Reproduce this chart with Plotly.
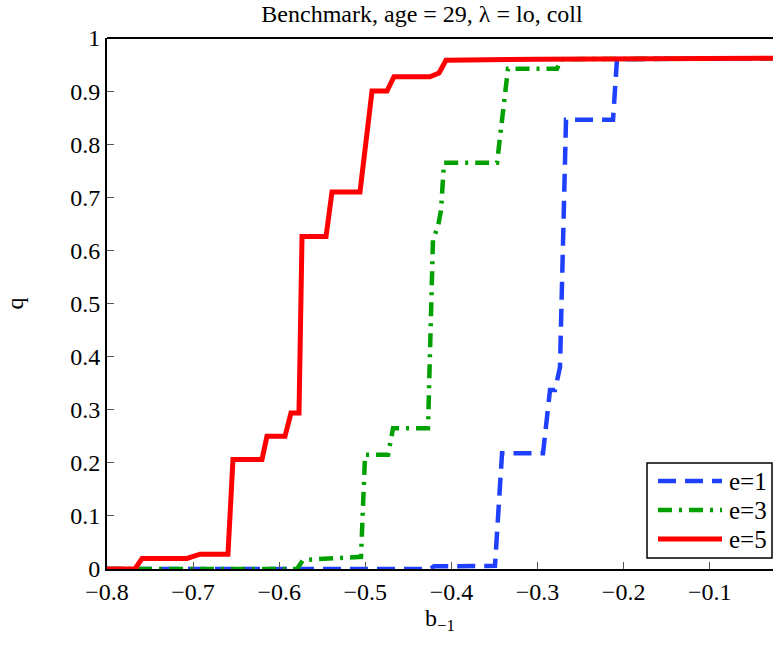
import plotly.graph_objects as go

# ---- data ----
e1_x = [-0.8, -0.4249, -0.42, -0.3494, -0.3412, -0.2936, -0.2855, -0.2797, -0.2739, -0.2669, -0.2123, -0.2077, -0.0265]
e1_y = [0.0, 0.0, 0.005, 0.006, 0.218, 0.218, 0.337, 0.337, 0.38, 0.846, 0.846, 0.96, 0.962]

e3_x = [-0.8, -0.5793, -0.5724, -0.5096, -0.505, -0.5003, -0.4736, -0.4678, -0.4272, -0.4214, -0.4156, -0.4121, -0.4086, -0.347, -0.3343, -0.2774, -0.2727, -0.0265]
e3_y = [0.0, 0.0, 0.017, 0.023, 0.023, 0.215, 0.215, 0.265, 0.265, 0.62, 0.645, 0.675, 0.765, 0.765, 0.942, 0.942, 0.96, 0.962]

e5_x = [-0.8, -0.7675, -0.7593, -0.7071, -0.692, -0.6595, -0.6537, -0.62, -0.6142, -0.5933, -0.5863, -0.577, -0.5735, -0.5456, -0.5387, -0.5062, -0.4922, -0.4748, -0.4667, -0.4249, -0.4144, -0.4063, -0.3, -0.0265]
e5_y = [0.0, 0.0, 0.02, 0.02, 0.028, 0.028, 0.206, 0.206, 0.25, 0.25, 0.294, 0.294, 0.626, 0.626, 0.71, 0.71, 0.90, 0.90, 0.927, 0.927, 0.934, 0.958, 0.96, 0.962]

series_names = ["e=1", "e=3", "e=5"]
x_ticks = [-0.8, -0.7, -0.6, -0.5, -0.4, -0.3, -0.2, -0.1]
y_ticks = [0, 0.1, 0.2, 0.3, 0.4, 0.5, 0.6, 0.7, 0.8, 0.9, 1]
y_labels = ["0", "0.1", "0.2", "0.3", "0.4", "0.5", "0.6", "0.7", "0.8", "0.9", "1"]

FONT = "Liberation Serif"
colors = ["#2040ff", "#00a000", "#ff0000"]
dashes = ["18px,9px", "14px,7px,3px,7px", "solid"]
widths = [4.5, 4.5, 5]

fig = go.Figure()
for xs, ys, nm, c, d, w in zip([e1_x, e3_x, e5_x], [e1_y, e3_y, e5_y], series_names, colors, dashes, widths):
    fig.add_trace(go.Scatter(x=xs, y=ys, mode="lines", name=nm, showlegend=False,
                             line=dict(color=c, width=w, dash=d)))

# plot area in pixels: x 107..773, y 38..569
L, R, T, B = 107, 773, 38, 569
def px(xp):
    return (xp - L) / (R - L)
def py(yp):
    return (B - yp) / (B - T)

fig.update_layout(
    width=773, height=647,
    margin=dict(l=L, r=773 - R, t=T, b=647 - B),
    paper_bgcolor="white", plot_bgcolor="white",
    font=dict(family=FONT, size=22, color="black"),
    title=dict(text="Benchmark, age = 29, λ = lo, coll", x=0.473, xref="paper",
               xanchor="center", y=1 - 14 / 647, yanchor="middle",
               font=dict(family=FONT, size=24, color="black")),
    showlegend=False,
    xaxis=dict(range=[-0.8, -0.0265], tickvals=x_ticks, ticks="inside", ticklen=7,
               tickcolor="#555", tickwidth=1, showgrid=False, zeroline=False,
               showline=True, linecolor="black", linewidth=2, mirror=False,
               tickfont=dict(family=FONT, size=24)),
    yaxis=dict(range=[0, 1], tickvals=y_ticks, ticktext=y_labels, ticks="inside", ticklen=7,
               tickcolor="#555", tickwidth=1, showgrid=False, zeroline=False,
               showline=True, linecolor="black", linewidth=2,
               title=dict(text="q", font=dict(family=FONT, size=24), standoff=40),
               tickfont=dict(family=FONT, size=24)),
)
# x-axis title as annotation
fig.add_annotation(xref="paper", yref="paper", x=px(440), y=py(620),
                   text="b<sub>−1</sub>", showarrow=False, xanchor="center", yanchor="middle",
                   font=dict(family=FONT, size=24, color="black"))

# top frame line
fig.add_shape(type="line", xref="paper", yref="paper", x0=0, x1=1, y0=1, y1=1,
              line=dict(color="black", width=2))

# custom legend box
fig.add_shape(type="rect", xref="paper", yref="paper",
              x0=px(647), x1=px(772), y0=py(558), y1=py(463),
              line=dict(color="black", width=1.5), fillcolor="white", layer="above")
legend_rows = [481, 510, 539]
for row, nm, c, d, w in zip(legend_rows, series_names, colors, dashes, widths):
    fig.add_shape(type="line", xref="paper", yref="paper",
                  x0=px(658), x1=px(722), y0=py(row), y1=py(row),
                  line=dict(color=c, width=w, dash=d), layer="above")
    fig.add_annotation(xref="paper", yref="paper", x=px(727), y=py(row),
                       text=nm, showarrow=False, xanchor="left", yanchor="middle",
                       font=dict(family=FONT, size=25, color="black"))

fig.write_html("out.html")
